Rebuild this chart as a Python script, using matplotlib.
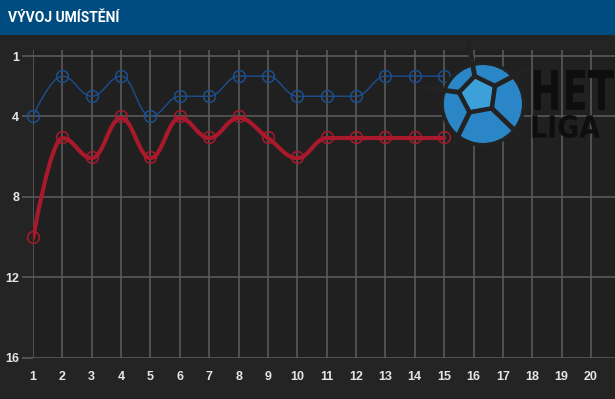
import numpy as np
import matplotlib
matplotlib.use("Agg")
import matplotlib.pyplot as plt
import matplotlib.transforms as mtransforms
from matplotlib.path import Path
from matplotlib.patches import PathPatch, Circle, Rectangle, Polygon
from matplotlib.textpath import TextPath
from matplotlib.font_manager import FontProperties

rounds = list(range(1, 16))
blue_pos = [4, 2, 3, 2, 4, 3, 3, 2, 2, 3, 3, 3, 2, 2, 2]
red_pos = [10, 5, 6, 4, 6, 4, 5, 4, 5, 6, 5, 5, 5, 5, 5]
x_ticks = list(range(1, 21))
y_ticks = [1, 4, 8, 12, 16]

BG = "#242424"
GRID = "#5e5e5e"
BLUE = "#1c4f8f"
RED = "#a8192b"


def spline_path(xs, ys, smoothing=1.5):
    # highcharts style spline
    n = len(xs)
    lc = [(xs[i], ys[i]) for i in range(n)]
    rc = [(xs[i], ys[i]) for i in range(n)]
    d = smoothing + 1
    for i in range(1, n - 1):
        px, py = xs[i], ys[i]
        lx, ly = xs[i - 1], ys[i - 1]
        nx, ny = xs[i + 1], ys[i + 1]
        lcx = (smoothing * px + lx) / d
        lcy = (smoothing * py + ly) / d
        rcx = (smoothing * px + nx) / d
        rcy = (smoothing * py + ny) / d
        corr = (rcy - lcy) * (rcx - px) / (rcx - lcx) + py - rcy
        lcy += corr
        rcy += corr
        # no overshoot past neighbours
        if lcy > ly and lcy > py:
            lcy = max(ly, py); rcy = 2 * py - lcy
        elif lcy < ly and lcy < py:
            lcy = min(ly, py); rcy = 2 * py - lcy
        if rcy > ny and rcy > py:
            rcy = max(ny, py); lcy = 2 * py - rcy
        elif rcy < ny and rcy < py:
            rcy = min(ny, py); lcy = 2 * py - rcy
        lc[i] = (lcx, lcy)
        rc[i] = (rcx, rcy)
    verts = [(xs[0], ys[0])]
    codes = [Path.MOVETO]
    for i in range(1, n):
        verts += [rc[i - 1], lc[i], (xs[i], ys[i])]
        codes += [Path.CURVE4] * 3
    return Path(verts, codes)


def text_box(fig, s, x0, y0, x1, y1, color):
    # text squeezed into a pixel box (x0, y0 top-left; y down)
    tp = TextPath((0, 0), s, size=50, prop=FontProperties(family="DejaVu Sans", weight="bold"))
    v = tp.vertices
    bx0, by0 = v[:, 0].min(), v[:, 1].min()
    bx1, by1 = v[:, 0].max(), v[:, 1].max()
    H = 399
    tr = (mtransforms.Affine2D().translate(-bx0, -by0)
          .scale((x1 - x0) / (bx1 - bx0), (y1 - y0) / (by1 - by0))
          .translate(x0, H - y1))
    fig.patches.append(PathPatch(tr.transform_path(tp), transform=None,
                                 facecolor=color, edgecolor="none", zorder=3))


fig = plt.figure(figsize=(6.15, 3.99), dpi=100, facecolor=BG)

# title bar
fig.patches.append(Rectangle((0, 1 - 35 / 399), 1, 35 / 399, transform=fig.transFigure,
                             facecolor="#004b7f", edgecolor="none", zorder=0))
fig.text(8 / 615, 1 - 18 / 399, "VÝVOJ UMÍSTĚNÍ", color="white", fontsize=10,
         fontweight="bold", family="Roboto", va="center", ha="left")

ax = fig.add_axes([33 / 615, 1 - 358 / 399, 1 - 33 / 615, (358 - 50) / 399])
ax.set_facecolor("#202020")
ax.set_xlim(1, 1 + (615 - 33) / 29.37)
ax.set_ylim(16, 1 - 6 / 20.13)
for s in ax.spines.values():
    s.set_visible(False)
ax.set_xticks(x_ticks)
ax.set_yticks(y_ticks)
ax.grid(True, color=GRID, linewidth=1.1)
ax.set_axisbelow(True)
ax.tick_params(axis="x", length=0, pad=9, labelcolor="#e6e6e6", labelsize=9)
ax.tick_params(axis="y", length=8, width=1.1, color=GRID, pad=2,
               labelcolor="#e6e6e6", labelsize=9)
for lab in ax.get_xticklabels() + ax.get_yticklabels():
    lab.set_fontweight("bold")
    lab.set_family("Liberation Sans")

# logo (approximate)
cx, cy = 483, 399 - 104
fig.patches.append(Circle((cx, cy), 39, transform=None, facecolor="#2a86c6",
                          edgecolor="none", zorder=3))
pc = np.array([478, 399 - 95])
ang = np.deg2rad(np.array([100, 172, 244, 316, 28]))
pent = np.column_stack([pc[0] + 19 * np.cos(ang), pc[1] + 19 * np.sin(ang)])
for k in range(5):
    a, b = pent[k], pent[(k + 1) % 5]
    fig.lines.append(plt.Line2D([a[0], b[0]], [a[1], b[1]], transform=None,
                                color="#222222", linewidth=3.5, zorder=4))
    tip = pc + (pent[k] - pc) * 3.0
    fig.lines.append(plt.Line2D([a[0], tip[0]], [a[1], tip[1]], transform=None,
                                color="#222222", linewidth=3.5, zorder=4))
fig.patches.append(Polygon(pent * 0.86 + pc * 0.14, closed=True, transform=None,
                           facecolor="#3ea0d8", edgecolor="none", zorder=4))
fig.patches.append(Circle((cx, cy), 41, transform=None, facecolor="none",
                          edgecolor="#222222", linewidth=2.5, zorder=5))
text_box(fig, "HET", 530, 70, 614, 110, "#0e0e0e")
text_box(fig, "LIGA", 530, 115, 600, 138, "#0e0e0e")

# series
ax.add_patch(PathPatch(spline_path(rounds, blue_pos), facecolor="none",
                       edgecolor=BLUE, linewidth=1.0, zorder=6))
red_tr = mtransforms.offset_copy(ax.transData, fig=fig, x=0, y=-1.5, units="dots")
ax.add_patch(PathPatch(spline_path(rounds, red_pos), facecolor="none",
                       edgecolor=RED, linewidth=3, zorder=7, capstyle="round",
                       transform=red_tr))
ax.plot(rounds, blue_pos, linestyle="none", marker="o", markersize=8.5,
        markerfacecolor="none", markeredgecolor=BLUE, markeredgewidth=1.1,
        zorder=8, clip_on=False)
ax.plot(rounds, red_pos, linestyle="none", marker="o", markersize=8.5,
        markerfacecolor="none", markeredgecolor=RED, markeredgewidth=1.1,
        zorder=8, clip_on=False)

fig.savefig("out.png", dpi=100, facecolor=BG)
